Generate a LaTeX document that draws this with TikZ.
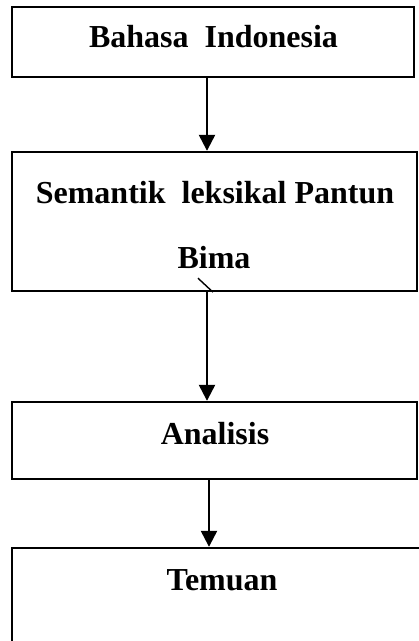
\documentclass[tikz,border=0pt]{standalone}
\usepackage{fontspec}
\setmainfont{Liberation Serif}
\usetikzlibrary{arrows.meta, positioning}
\tikzset{
  flowbox/.style={rectangle, draw=black, line width=2.4pt, minimum width=405pt, inner sep=0pt},
  flowtext/.style={anchor=base, inner sep=0pt, font=\fontsize{32}{38}\selectfont\bfseries},
  flowarrow/.style={-{Triangle[width=16pt, length=16pt]}, line width=2.4pt, black}
}
\begin{document}
\begin{tikzpicture}[x=1pt, y=-1pt]
  \useasboundingbox (0,0) rectangle (419,641);
  \clip (0,0) rectangle (419,641);

  % Boxes
  \node[flowbox, minimum width=402pt, minimum height=70pt] (bahasa) at (213,42) {};
  \node[flowbox, minimum height=139pt] (semantik) at (214.5,221.5) {};
  \node[flowbox, minimum height=77pt] (analisis) at (214.5,440.5) {};
  \node[flowbox, minimum width=413pt, minimum height=160pt] (temuan) at (218.5,628) {};

  % Labels
  \node[flowtext] (bahasa-t) at (213.5,47) {Bahasa~~Indonesia};
  \node[flowtext] (semantik-t) at (215,203) {Semantik~~leksikal Pantun};
  \node[flowtext] (bima-t) at (214,268) {Bima};
  \node[flowtext] (analisis-t) at (215,444) {Analisis};
  \node[flowtext] (temuan-t) at (222,590) {Temuan};

  % Arrows
  \draw[flowarrow] ([xshift=-6pt]bahasa.south) -- ([xshift=-7.5pt]semantik.north);
  \draw[flowarrow] ([xshift=-7.5pt]semantik.south) -- ([xshift=-7.5pt]analisis.north);
  \draw[flowarrow] ([xshift=-5.5pt]analisis.south) -- ([xshift=-9.5pt]temuan.north);

  % stray tick
  \draw[line width=1.4pt] ([xshift=-16.5pt, yshift=14pt]semantik.south) -- ([xshift=-1.5pt]semantik.south);
\end{tikzpicture}
\end{document}
